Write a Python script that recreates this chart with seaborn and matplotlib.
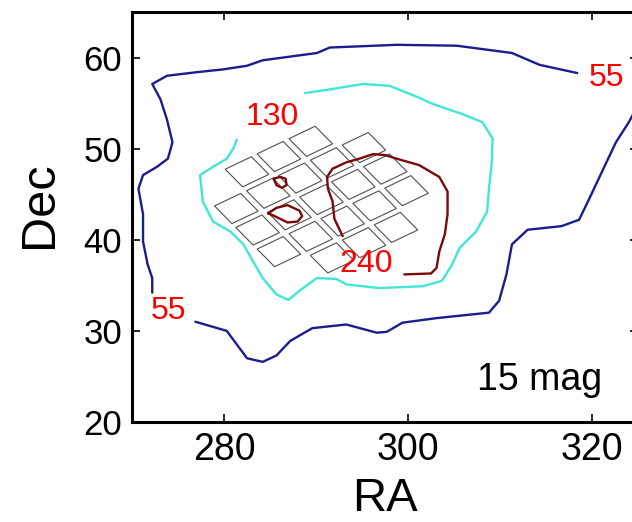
import numpy as np
import pandas as pd
import matplotlib
matplotlib.use("Agg")
import matplotlib.pyplot as plt
from matplotlib.patches import Polygon
import seaborn as sns

# ---- contour data (RA, Dec) ----
c55_a_ra = [318.4, 314.3, 311.3, 305.3, 298.8, 291.5, 290.1, 284.2, 282.5, 279.9, 277.1, 273.8,
            272.2, 273.1, 273.8, 274.4, 273.9, 272.7, 271.2, 270.7, 271.2, 271.2, 271.7, 272.2, 272.2]
c55_a_dec = [58.3, 59.2, 60.5, 61.3, 61.4, 61.1, 60.5, 59.7, 59.1, 58.7, 58.4, 58.0,
             57.1, 55.4, 53.2, 50.7, 48.9, 48.0, 47.1, 45.6, 42.8, 39.8, 37.3, 35.8, 34.2]
c55_b_ra = [276.9, 280.3, 282.5, 284.2, 285.7, 287.2, 289.6, 293.3, 296.6, 297.7, 299.4, 303.1,
            308.8, 309.9, 310.7, 311.3, 313.0, 316.7, 318.6, 319.7, 321.1, 322.6, 324.0, 325.4]
c55_b_dec = [31.0, 30.0, 27.0, 26.6, 27.3, 28.9, 30.3, 30.7, 29.8, 29.9, 30.9, 31.4,
             32.0, 33.3, 36.2, 39.5, 41.1, 41.5, 42.2, 44.5, 47.5, 50.7, 52.9, 55.5]

c130_ra = [288.8, 291.5, 295.1, 298.0, 301.2, 302.7, 305.9, 308.1, 309.2, 309.1, 308.8, 308.6,
           307.4, 305.6, 304.8, 303.7, 301.6, 296.9, 293.3, 292.2, 290.1, 288.2, 287.0, 285.7,
           284.2, 282.1, 280.7, 278.8, 277.7, 277.4, 278.8, 280.3, 281.0, 281.4]
c130_dec = [56.1, 56.5, 57.1, 56.9, 55.6, 54.9, 53.8, 52.9, 51.1, 48.5, 45.6, 43.1,
            40.9, 39.1, 37.3, 35.5, 34.9, 34.7, 35.1, 35.7, 35.8, 34.4, 33.4, 34.0,
            35.8, 39.5, 40.9, 42.0, 44.2, 47.1, 48.0, 48.9, 50.0, 51.0]

c240_a_ra = [292.9, 292.0, 291.8, 291.3, 291.2, 291.8, 293.3, 294.7, 296.2, 297.5, 299.1, 301.2,
             303.4, 304.3, 304.3, 304.0, 303.4, 303.1, 302.5, 299.6]
c240_a_dec = [40.4, 42.3, 44.2, 45.6, 46.9, 47.8, 48.5, 48.9, 49.4, 49.3, 48.8, 48.2,
              46.9, 45.3, 42.8, 40.6, 38.7, 36.9, 36.3, 36.2]
c240_b_ra = [285.4, 286.1, 286.7, 286.8, 286.3, 285.7, 285.4]
c240_b_dec = [46.7, 46.9, 46.7, 46.0, 45.7, 46.0, 46.7]
c240_c_ra = [284.8, 285.7, 286.9, 288.2, 288.5, 288.0, 286.9, 286.3, 285.5, 284.8]
c240_c_dec = [42.9, 43.5, 43.8, 43.2, 42.6, 42.0, 41.9, 42.2, 42.6, 42.9]

# contour labels
label_text = ["55", "55", "130", "240"]
label_ra = [321.6, 274.0, 285.2, 295.5]
label_dec = [57.8, 32.2, 53.5, 37.3]

# ---- Kepler module centres (RA, Dec) ----
mod_ra = [282.50, 285.96, 289.43,
          281.34, 284.81, 288.28, 291.75, 295.21,
          283.65, 287.12, 290.59, 294.06, 297.53,
          285.97, 289.43, 292.90, 296.37, 299.84,
          291.75, 295.22, 298.69]
mod_dec = [47.46, 49.14, 50.81,
           43.43, 45.10, 46.77, 48.45, 50.12,
           41.07, 42.74, 44.41, 46.08, 47.75,
           38.70, 40.38, 42.05, 43.72, 45.39,
           38.01, 39.68, 41.36]
# module edge vectors (RA, Dec)
edge_u = (3.469 * 0.82, 1.672 * 0.82)
edge_v = (2.313 * 0.82, -2.363 * 0.82)

pieces = [
    ("55", "a55", c55_a_ra, c55_a_dec),
    ("55", "b55", c55_b_ra, c55_b_dec),
    ("130", "a130", c130_ra, c130_dec),
    ("240", "a240", c240_a_ra, c240_a_dec),
    ("240", "b240", c240_b_ra, c240_b_dec),
    ("240", "c240", c240_c_ra, c240_c_dec),
]
rows = []
for lev, pid, ras, decs in pieces:
    for k, (r, d) in enumerate(zip(ras, decs)):
        rows.append({"level": lev, "piece": pid, "order": k, "RA": r, "Dec": d})
df = pd.DataFrame(rows)

sns.set_theme(style="white")
plt.rcParams["font.family"] = ["Liberation Sans", "DejaVu Sans"]
plt.rcParams["text.color"] = "black"
plt.rcParams["axes.labelcolor"] = "black"
plt.rcParams["xtick.color"] = "black"
plt.rcParams["ytick.color"] = "black"

fig = plt.figure(figsize=(6.32, 5.22), dpi=100)
ax = fig.add_axes([132 / 632, 100 / 522, 506 / 632, 410 / 522])

palette = {"55": "#1c1c8e", "130": "#40e6d6", "240": "#7a0a0a"}
sns.lineplot(data=df, x="RA", y="Dec", hue="level", units="piece", estimator=None,
             sort=False, palette=palette, linewidth=1.7, legend=False, ax=ax)

for r, d in zip(mod_ra, mod_dec):
    cx, cy = r, d
    hu = (edge_u[0] / 2, edge_u[1] / 2)
    hv = (edge_v[0] / 2, edge_v[1] / 2)
    pts = [(cx - hu[0] - hv[0], cy - hu[1] - hv[1]),
           (cx + hu[0] - hv[0], cy + hu[1] - hv[1]),
           (cx + hu[0] + hv[0], cy + hu[1] + hv[1]),
           (cx - hu[0] + hv[0], cy - hu[1] + hv[1])]
    ax.add_patch(Polygon(pts, closed=True, fill=False, edgecolor="#505050", linewidth=0.8))

for t, r, d in zip(label_text, label_ra, label_dec):
    ax.text(r, d, t, color="#ff0000", fontsize=23, ha="center", va="center")

ax.text(314.3, 24.6, "15 mag", color="black", fontsize=27, ha="center", va="center")

ax.set_xlim(270, 325)
ax.set_ylim(20, 65)
ax.set_xticks([280, 300, 320])
ax.set_yticks([20, 30, 40, 50, 60])
ax.tick_params(axis="both", direction="in", length=6, width=1.2, color="black",
               labelcolor="black", top=True, right=True, bottom=True, left=True)
ax.tick_params(axis="x", labelsize=27, pad=7)
ax.tick_params(axis="y", labelsize=25, pad=7)
for s in ax.spines.values():
    s.set_linewidth(2.2)
    s.set_color("black")

ax.set_xlabel("RA", fontsize=34, va="baseline", color="black")
ax.xaxis.set_label_coords(0.5, (422 - 511) / 410)
ax.set_ylabel("Dec", fontsize=35, va="center", color="black")
ax.yaxis.set_label_coords((40 - 132) / 506, (422 - 205) / 410)

fig.savefig("out.png", dpi=100)
